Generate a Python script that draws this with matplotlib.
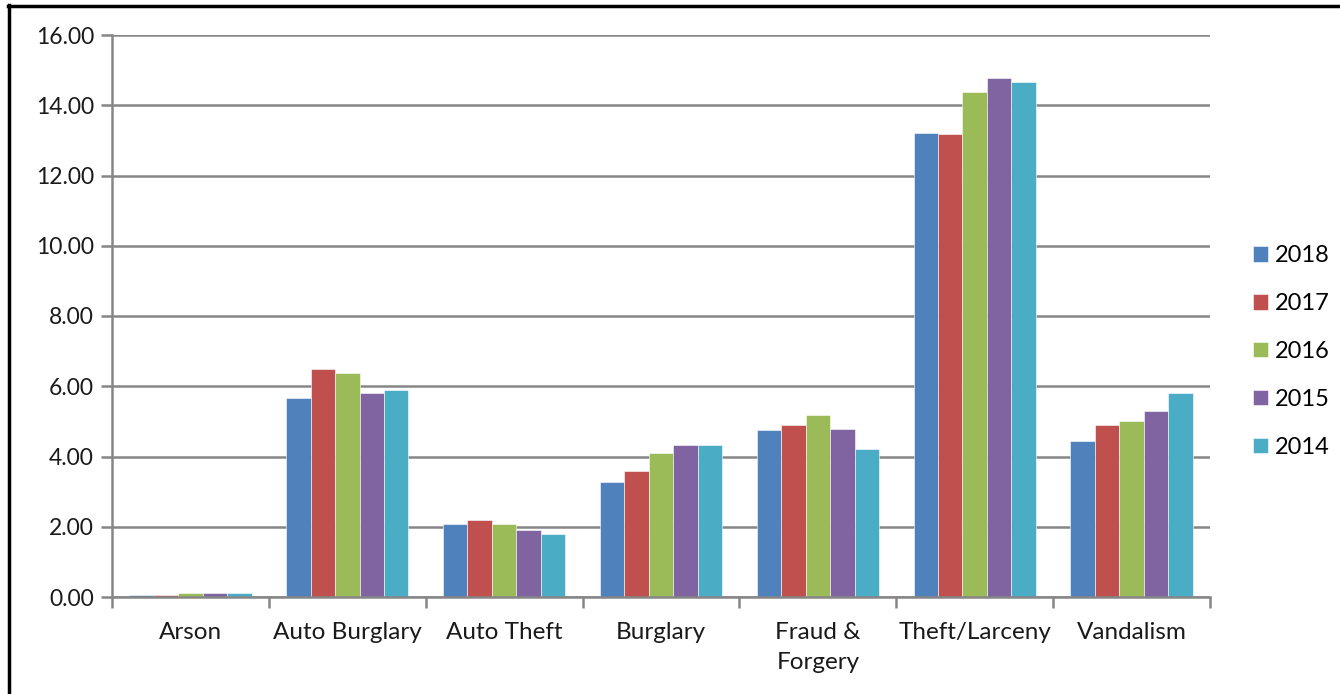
import matplotlib.pyplot as plt
import numpy as np
from matplotlib.lines import Line2D
from matplotlib.patches import Patch

plt.rcParams['font.family'] = ['Lato', 'DejaVu Sans']

# data
categories = ['Arson', 'Auto Burglary', 'Auto Theft', 'Burglary',
              'Fraud &\nForgery', 'Theft/Larceny', 'Vandalism']
years = ['2018', '2017', '2016', '2015', '2014']
v2018 = [0.06, 5.66, 2.09, 3.26, 4.76, 13.22, 4.43]
v2017 = [0.07, 6.50, 2.19, 3.58, 4.90, 13.17, 4.90]
v2016 = [0.11, 6.39, 2.09, 4.09, 5.19, 14.38, 5.00]
v2015 = [0.10, 5.81, 1.90, 4.32, 4.78, 14.78, 5.30]
v2014 = [0.10, 5.88, 1.79, 4.32, 4.21, 14.67, 5.81]
colors = ['#4F81BD', '#C0504D', '#9BBB59', '#8064A2', '#4BACC6']

series = [v2018, v2017, v2016, v2015, v2014]

fig = plt.figure(figsize=(13.4, 6.94), dpi=100)
ax = fig.add_axes([112/1340, 1 - 597/694, (1210 - 112)/1340, (597 - 35)/694])

x = np.arange(len(categories))
w = 0.156
for i, (vals, c) in enumerate(zip(series, colors)):
    ax.bar(x + (i - 2) * w, vals, width=w, color=c, edgecolor='white',
           linewidth=0.4, zorder=3)

ax.set_xlim(-0.5, len(categories) - 0.5)
ax.set_ylim(0, 16)
ax.set_yticks(np.arange(0, 17, 2))
ax.set_yticklabels(['%.2f' % t for t in np.arange(0, 17, 2)], fontsize=16.5,
                   color='#1a1a1a')
ax.yaxis.grid(True, color='#868686', linewidth=1.8, zorder=0)

# category labels between boundary ticks
ax.set_xticks(np.arange(-0.5, len(categories)), minor=False)
ax.set_xticklabels([])
ax.set_xticks(x, minor=True)
ax.set_xticklabels(categories, minor=True, fontsize=17.5, color='#1a1a1a',
                   linespacing=1.55, va='top')
ax.tick_params(axis='x', which='minor', length=0, pad=18)
ax.tick_params(axis='x', which='major', length=8, width=1.8, color='#868686')
ax.tick_params(axis='y', length=8, width=1.8, color='#868686', pad=5)

for s in ['top', 'right']:
    ax.spines[s].set_visible(False)
for s in ['left', 'bottom']:
    ax.spines[s].set_color('#868686')
    ax.spines[s].set_linewidth(1.8)
    ax.spines[s].set_zorder(4)

handles = [Patch(facecolor=c, edgecolor='white', linewidth=0.4) for c in colors]
leg = fig.legend(handles, years, loc='upper left',
                 bbox_to_anchor=(1232/1340, 1 - 224/694), frameon=False,
                 fontsize=17, handlelength=0.62, handleheight=0.62,
                 labelspacing=1.14, handletextpad=0.3)

# outer border (top and left)
fig.add_artist(Line2D([8/1340, 1], [1 - 6/694, 1 - 6/694], color='black',
                      linewidth=2.5, transform=fig.transFigure))
fig.add_artist(Line2D([9/1340, 9/1340], [0, 1 - 5/694], color='black',
                      linewidth=2.5, transform=fig.transFigure))

fig.savefig('out.png', dpi=100, facecolor='white')
